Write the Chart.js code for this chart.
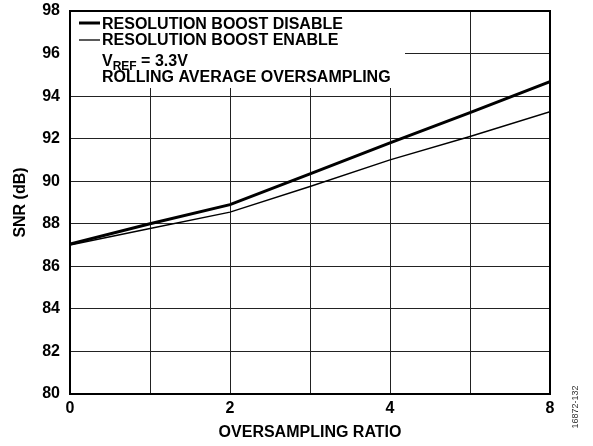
<!DOCTYPE html>
<html>
<head>
<meta charset="utf-8">
<script src="https://cdn.jsdelivr.net/npm/chart.js@4/dist/chart.umd.min.js"></script>
<style>
  html, body { margin: 0; padding: 0; background: #fff; }
  canvas { display: block; }
</style>
</head>
<body>
<canvas id="c" width="593" height="446"></canvas>
<script>
// oversampling ratio axis: 7 grid positions, labels only on every other one
const xPositions = [0, 1, 2, 3, 4, 5, 6];
const xTickLabels = ['0', '', '2', '', '4', '', '8'];
const snrBoostDisable = [87.05, 88.0, 88.9, 90.35, 91.8, 93.22, 94.68];
const snrBoostEnable = [87.0, 87.78, 88.55, 89.75, 91.0, 92.1, 93.27];
const yTicks = [80, 82, 84, 86, 88, 90, 92, 94, 96, 98];

const FONT = '"Liberation Sans", Arial, Helvetica, sans-serif';

// white legend box + note text, drawn over the grid before lines
const notePlugin = {
  id: 'note',
  beforeDatasetsDraw(chart) {
    const ctx = chart.ctx;
    const a = chart.chartArea;
    ctx.save();
    ctx.fillStyle = '#fff';
    ctx.fillRect(a.left + 1, a.top + 1, 404 - a.left, 88 - a.top - 1);
    ctx.strokeStyle = '#000';
    ctx.lineCap = 'butt';
    ctx.lineWidth = 3;
    ctx.beginPath(); ctx.moveTo(79, 23); ctx.lineTo(100, 23); ctx.stroke();
    ctx.lineWidth = 1.3;
    ctx.beginPath(); ctx.moveTo(79, 40); ctx.lineTo(100, 40); ctx.stroke();
    ctx.fillStyle = '#000';
    ctx.font = 'bold 16px ' + FONT;
    ctx.textBaseline = 'alphabetic';
    const tx = 102;
    ctx.fillText('RESOLUTION BOOST DISABLE', tx, 29);
    ctx.fillText('RESOLUTION BOOST ENABLE', tx, 45);
    ctx.fillText('V', tx, 66);
    const vw = ctx.measureText('V').width;
    ctx.font = 'bold 12px ' + FONT;
    ctx.fillText('REF', tx + vw, 70);
    const rw = ctx.measureText('REF').width;
    ctx.font = 'bold 16px ' + FONT;
    ctx.fillText(' = 3.3V', tx + vw + rw, 66);
    ctx.fillText('ROLLING AVERAGE OVERSAMPLING', tx, 82);
    ctx.restore();
  },
  afterDraw(chart) {
    const ctx = chart.ctx;
    ctx.save();
    ctx.fillStyle = '#333';
    ctx.font = '9px ' + FONT;
    ctx.translate(576, 407);
    ctx.rotate(-Math.PI / 2);
    ctx.textAlign = 'center';
    ctx.textBaseline = 'middle';
    ctx.fillText('16872-132', 0, 0);
    ctx.restore();
  }
};

new Chart(document.getElementById('c'), {
  type: 'line',
  data: {
    datasets: [
      {
        label: 'RESOLUTION BOOST DISABLE',
        data: xPositions.map((x, i) => ({ x: x, y: snrBoostDisable[i] })),
        borderColor: '#000', borderWidth: 3, pointRadius: 0, tension: 0
      },
      {
        label: 'RESOLUTION BOOST ENABLE',
        data: xPositions.map((x, i) => ({ x: x, y: snrBoostEnable[i] })),
        borderColor: '#000', borderWidth: 1.4, pointRadius: 0, tension: 0
      }
    ]
  },
  options: {
    responsive: false,
    animation: false,
    layout: { padding: { left: 0, right: 43, top: 11, bottom: 0 } },
    plugins: { legend: { display: false }, tooltip: { enabled: false } },
    scales: {
      x: {
        type: 'linear', min: 0, max: 6,
        afterFit(s) { s.height = 52; },
        afterBuildTicks(s) { s.ticks = xPositions.map(v => ({ value: v })); },
        grid: { color: '#222', lineWidth: 1, drawTicks: false },
        border: { color: '#000', width: 2 },
        ticks: {
          color: '#000', padding: 5, maxRotation: 0,
          font: { family: FONT, size: 16, weight: 'bold' },
          callback: (v) => xTickLabels[v]
        },
        title: {
          display: true, text: 'OVERSAMPLING RATIO', color: '#000',
          font: { family: FONT, size: 16, weight: 'bold' },
          padding: { top: 4, bottom: 4 }
        }
      },
      y: {
        min: 80, max: 98,
        afterFit(s) { s.width = 70; s.paddingTop = 0; s.paddingBottom = 0; },
        afterBuildTicks(s) { s.ticks = yTicks.map(v => ({ value: v })); },
        grid: { color: '#222', lineWidth: 1, drawTicks: false },
        border: { color: '#000', width: 2 },
        ticks: {
          color: '#000', padding: 10,
          font: { family: FONT, size: 16, weight: 'bold' }
        },
        title: {
          display: true, text: 'SNR (dB)', color: '#000',
          font: { family: FONT, size: 16, weight: 'bold' },
          padding: { top: 11, bottom: 0 }
        }
      }
    }
  },
  plugins: [notePlugin, {
    id: 'frame',
    afterDatasetsDraw(chart) {
      const a = chart.chartArea, ctx = chart.ctx;
      ctx.save();
      ctx.strokeStyle = '#000'; ctx.lineWidth = 2;
      ctx.strokeRect(a.left, a.top, a.right - a.left, a.bottom - a.top);
      ctx.restore();
    }
  }]
});
</script>
</body>
</html>
